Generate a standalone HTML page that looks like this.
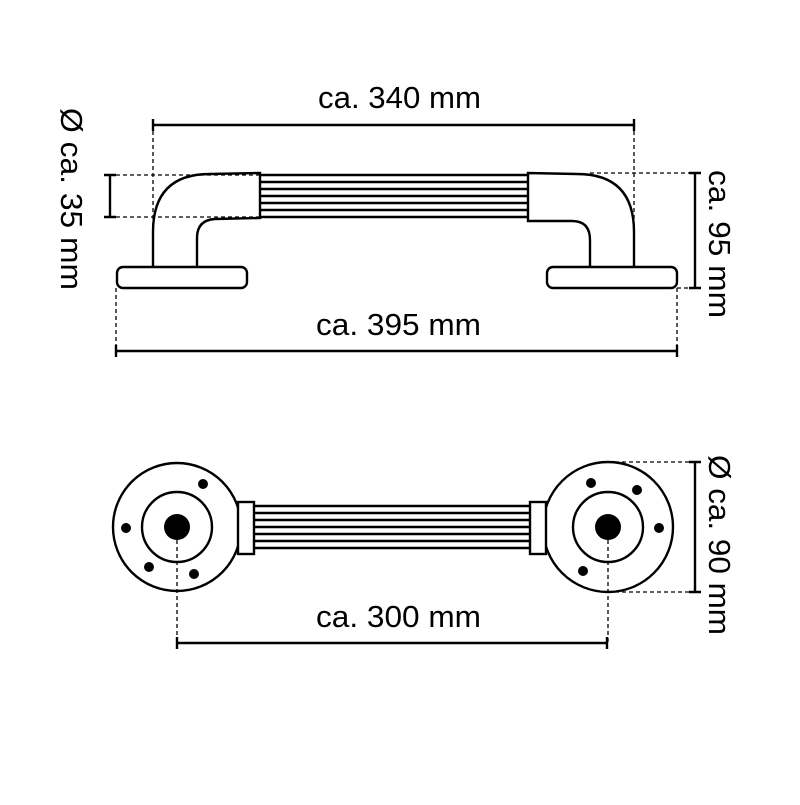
<!DOCTYPE html>
<html><head><style>body{margin:0;background:#fff}</style></head><body>
<svg width="800" height="800" viewBox="0 0 800 800" xmlns="http://www.w3.org/2000/svg" font-family="Liberation Sans, DejaVu Sans, sans-serif" font-size="31">
<g fill="none" stroke="#000" stroke-width="2.4">
<path d="M153 268 L153 232 Q153 174 210 174 L260 173 L260 218 L215 219 Q197 220 197 238 L197 268"/>
<rect x="117" y="267" width="130" height="21" rx="6"/>
<path d="M634 268 L634 232 Q634 174 577 174 L528 173 L528 221 L572 221 Q590 221 590 240 L590 268"/>
<rect x="547" y="267" width="130" height="21" rx="6"/>
<path d="M260 175 H528 M260 182 H528 M260 189 H528 M260 196 H528 M260 203 H528 M260 210 H528 M260 217 H528"/>
<circle cx="177" cy="527" r="64"/>
<circle cx="177" cy="527" r="35"/>
<circle cx="608" cy="527" r="65"/>
<circle cx="608" cy="527" r="35"/>
<rect x="238" y="502" width="16" height="52" fill="#fff"/>
<rect x="530" y="502" width="16" height="52" fill="#fff"/>
<path d="M254 506 H530 M254 513 H530 M254 520 H530 M254 527 H530 M254 534 H530 M254 541 H530 M254 548 H530"/>
<path d="M153 125 H634 M153 119 V131 M634 119 V131"/>
<path d="M116 351 H677 M116 345 V357 M677 345 V357"/>
<path d="M110 175 V217 M104 175 H116 M104 217 H116"/>
<path d="M695 173 V288 M689 173 H701 M689 288 H701"/>
<path d="M695 462 V592 M689 462 H701 M689 592 H701"/>
<path d="M177 643 H607 M177 637 V649 M607 637 V649"/>
</g>
<g fill="#000">
<circle cx="177" cy="527" r="13"/><circle cx="608" cy="527" r="13"/>
<circle cx="203" cy="484" r="5"/><circle cx="126" cy="528" r="5"/><circle cx="149" cy="567" r="5"/><circle cx="194" cy="574" r="5"/>
<circle cx="591" cy="483" r="5"/><circle cx="637" cy="490" r="5"/><circle cx="659" cy="528" r="5"/><circle cx="583" cy="571" r="5"/>
</g>
<g fill="none" stroke="#000" stroke-width="1.3" stroke-dasharray="4,3">
<path d="M153 131 V268 M634 131 V268"/>
<path d="M116 288 V351 M677 288 V351"/>
<path d="M116 175 H260 M116 217 H260"/>
<path d="M590 173 H695 M677 288 H695"/>
<path d="M608 462 H695 M608 592 H695"/>
<path d="M177 540 V643 M608 540 V643"/>
</g>
<g fill="#000">
<text x="318" y="108" textLength="163" lengthAdjust="spacingAndGlyphs">ca. 340 mm</text>
<text x="316" y="335" textLength="165" lengthAdjust="spacingAndGlyphs">ca. 395 mm</text>
<text x="316" y="627" textLength="165" lengthAdjust="spacingAndGlyphs">ca. 300 mm</text>
<text transform="translate(61,108) rotate(90)" textLength="182" lengthAdjust="spacingAndGlyphs">Ø ca. 35 mm</text>
<text transform="translate(709,170) rotate(90)" textLength="148" lengthAdjust="spacingAndGlyphs">ca. 95 mm</text>
<text transform="translate(709,455) rotate(90)" textLength="180" lengthAdjust="spacingAndGlyphs">Ø ca. 90 mm</text>
</g>
</svg>
</body></html>
